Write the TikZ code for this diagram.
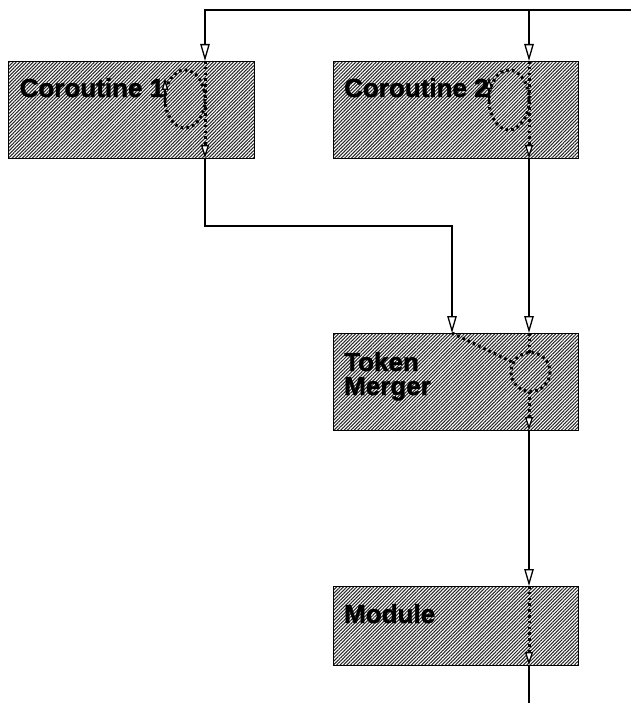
\documentclass[tikz,border=0pt]{standalone}
\usepackage{fontspec}
\setmainfont{Liberation Sans}[BoldFeatures={FakeBold=1.5}]
\usetikzlibrary{arrows.meta,patterns.meta}
\tikzset{
  box/.style={draw, line width=1.4pt, anchor=north west, inner sep=0pt,
    pattern={Lines[angle=45,distance=2.4pt,line width=1.05pt]}, pattern color=black!85},
  lbl/.style={anchor=base west, inner sep=0pt, align=left,
    font=\fontsize{26}{24}\selectfont\bfseries},
  wire/.style={line width=1.3pt,
    -{Triangle[length=17pt,width=9.5pt,line width=1.3pt,fill=white]}},
  plainwire/.style={line width=1.3pt},
  dots/.style={line width=3pt, line cap=butt, dash pattern=on 2.6pt off 3.2pt},
  dotarrow/.style={dots,
    -{Triangle[length=13pt,width=8pt,line width=1.3pt,fill=white]}},
  looparrow/.style={line width=1.8pt,
    -{Triangle[length=12pt,width=6.5pt,line width=1.4pt,fill=white]}},
}
\begin{document}
\begin{tikzpicture}[x=1pt,y=-1pt]
\useasboundingbox (0,0) rectangle (631,703);

% boxes
\node[box, minimum width=246pt, minimum height=97pt] (c1) at (8,61) {};
\node[box, minimum width=245pt, minimum height=97pt] (c2) at (333,61) {};
\node[box, minimum width=245pt, minimum height=97pt] (tm) at (333,333) {};
\node[box, minimum width=245pt, minimum height=79pt] (mod) at (333,586) {};

% labels
\node[lbl] (t1) at (19.5,97) {Coroutine 1};
\node[lbl] (t2) at (344,97) {Coroutine 2};
\node[lbl] (t3) at (344,395) {Token\\Merger};
\node[lbl] (t4) at (344,623) {Module};

% ports
\coordinate (feed) at (631,10);
\coordinate (split) at (529,10);
\coordinate (c1in) at (205,61);
\coordinate (c1out) at (205,158);
\coordinate (c2in) at (529,61);
\coordinate (c2out) at (529,158);
\coordinate (tmin1) at (452,333);
\coordinate (tmin2) at (529,333);
\coordinate (tmout) at (529,430);
\coordinate (modin) at (529,586);
\coordinate (modout) at (529,665);
\coordinate (exit) at (529,703);

% solid connectors
\draw[wire] (feed) -| (c1in);
\draw[wire] (split) -- (c2in);
\draw[wire] (c1out) -- ++(0,68) -| (tmin1);
\draw[wire] (c2out) -- (tmin2);
\draw[wire] (tmout) -- (modin);
\draw[plainwire] (modout) -- (exit);

% coroutine 1 internals
\draw[dotarrow] (c1in) -- (c1out);
\draw[dots] (185,99) ellipse [x radius=20, y radius=29];
\coordinate (l1a) at (165,106);
\coordinate (l1b) at (165,78);
\draw[looparrow] (l1a) -- (l1b);

% coroutine 2 internals
\draw[dotarrow] (c2in) -- (c2out);
\draw[dots] (509,100) ellipse [x radius=20, y radius=30];
\coordinate (l2a) at (489,102);
\coordinate (l2b) at (489,77);
\draw[looparrow] (l2a) -- (l2b);

% token merger internals
\coordinate (mc) at (530.5,372);
\draw[dots] (mc) circle [radius=19.5];
\draw[dots] (tmin1) -- (512,362);
\draw[dots] (tmin2) -- (529,352.5);
\draw[dotarrow] (529,391.5) -- (tmout);

% module internals
\draw[dotarrow] (modin) -- (modout);
\end{tikzpicture}
\end{document}
